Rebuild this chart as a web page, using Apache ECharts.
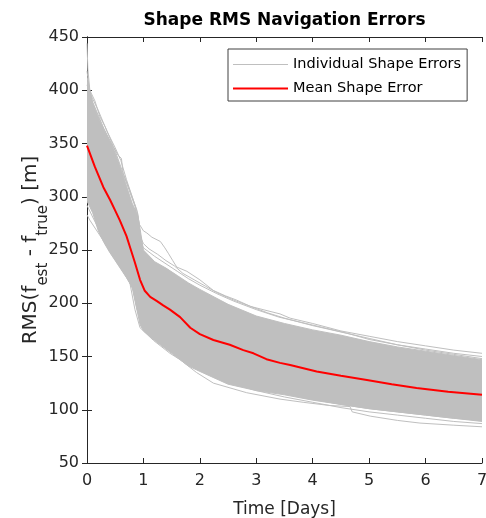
<!DOCTYPE html>
<html><head><meta charset="utf-8">
<script src="https://cdn.jsdelivr.net/npm/echarts@6/dist/echarts.min.js"></script>
<style>html,body{margin:0;padding:0;background:#fff}#c{width:486px;height:518px}</style>
</head><body><div id="c"></div>
<script>
// ---- text ----
const titleText = 'Shape RMS Navigation Errors';
const xName = 'Time [Days]';
const legendNames = ['Individual Shape Errors', 'Mean Shape Error'];
// ---- ticks ----
const xTicks = [0, 1, 2, 3, 4, 5, 6, 7];
const yTicks = [50, 100, 150, 200, 250, 300, 350, 400, 450];
// ---- mean shape error ----
const meanX   = [0, 0.14, 0.29, 0.41, 0.5, 0.58, 0.7, 0.76, 0.85, 0.94, 1.02, 1.12, 1.24, 1.35, 1.47, 1.65, 1.83, 2.0, 2.24, 2.53, 2.77, 2.95, 3.18, 3.42, 3.6, 4.07, 4.5, 4.96, 5.4, 5.84, 6.4, 7.0];
const meanErr = [348, 328, 309, 297, 287, 278, 263, 253, 238, 222, 212, 206, 202, 198, 194, 187, 177, 171, 165.5, 161, 156, 153, 147.5, 144, 142, 136, 132, 128, 124, 120.5, 117, 114];
// ---- dense spread of individual shape errors (upper / lower edge) ----
const bandX    = [0, 0.1, 0.2, 0.3, 0.4, 0.5, 0.6, 0.7, 0.8, 0.9, 0.94, 1.0, 1.2, 1.4, 1.6, 1.8, 2.0, 2.5, 3.0, 3.5, 4.0, 4.5, 5.0, 5.5, 6.0, 6.5, 7.0];
const bandHigh = [412, 388, 375, 363, 353, 341, 326, 310, 294, 282, 270, 250, 239, 233, 226, 219, 213, 199, 188, 181, 175, 170, 164, 159, 155, 151, 147];
const bandLow  = [296, 285, 268, 257, 248, 240, 232, 224, 215, 190, 180, 174, 165, 157, 149, 141, 136, 124, 118, 114, 109, 105, 101, 98, 95, 92, 89];
// ---- individual runs at the edges of the spread ----
const runA = [[0,444],[0.015,420],[0.05,400],[0.14,390],[0.23,375],[0.32,366],[0.47,347],[0.55,339],[0.61,336],[0.64,322],[0.76,306],[0.88,288],[0.93,274],[1.0,268],[1.06,266],[1.15,262],[1.3,258],[1.38,252],[1.44,247],[1.52,240],[1.59,234],[1.77,230],[2.0,222],[2.24,212],[2.45,207],[2.65,203],[2.9,197],[3.12,194],[3.42,190],[3.6,186],[4.0,181],[4.5,174],[5.0,169],[5.5,164],[6.0,160],[6.5,156],[7.0,153]];
const runB = [[0,405],[0.1,392],[0.2,381],[0.35,362],[0.5,346],[0.6,334],[0.7,316],[0.8,300],[0.9,284],[0.95,262],[1.0,256],[1.1,251],[1.25,246],[1.4,240],[1.55,235],[1.7,228],[1.9,222],[2.1,216],[2.3,210],[2.6,203],[2.9,197],[3.2,191],[3.5,186],[4.0,179],[4.5,173],[5.0,167],[5.5,161],[6.0,157],[6.5,153],[7.0,150]];
const runC = [[0,418],[0.05,398],[0.1,389],[0.3,364],[0.5,343],[0.7,313],[0.85,291],[0.95,258],[1.0,252],[1.2,244],[1.4,237],[1.6,230],[1.8,223],[2.0,217],[2.3,209],[2.6,202],[3.0,194],[3.4,187],[3.8,182],[4.2,177],[4.6,172],[5.0,166],[5.5,161],[6.0,156],[6.5,152],[7.0,148]];
const runD = [[0,283],[0.05,278],[0.2,266],[0.47,244],[0.6,233],[0.76,219],[0.85,194],[0.94,177],[1.18,165],[1.47,153],[1.65,147],[1.94,135],[2.24,125],[2.83,116],[3.42,110],[3.83,107],[4.3,104],[4.66,103],[4.7,98],[5.02,94],[5.5,90],[5.9,87.5],[6.5,85.5],[7.0,84]];
const runE = [[0,292],[0.1,281],[0.3,260],[0.5,243],[0.7,226],[0.82,212],[0.88,196],[0.95,182],[1.1,170],[1.4,158],[1.7,148],[2.0,138],[2.5,126],[3.0,118],[3.5,112],[4.0,107],[4.5,102],[5.0,98],[5.5,95],[6.0,92],[6.5,89],[7.0,87]];
const runF = [[0,300],[0.15,280],[0.4,255],[0.6,238],[0.8,218],[0.9,201],[1.0,182],[1.3,166],[1.6,154],[2.0,141],[2.5,129],[3.0,121],[3.5,115],[4.0,110],[4.5,105],[5.0,101],[5.5,98],[6.0,95],[6.5,92],[7.0,90]];

const FONT = 'DejaVu Sans';
const AX = '#262626';
const GREY = '#bfbfbf';
const RED = '#ff0000';
const xInt = xTicks[1] - xTicks[0];
const yInt = yTicks[1] - yTicks[0];

function greyRun(name, data) {
  return { type: 'line', name: name, data: data, symbol: 'none', silent: true,
    lineStyle: { color: GREY, width: 1 }, itemStyle: { color: GREY }, z: 3 };
}

const chart = echarts.init(document.getElementById('c'), null, { renderer: 'canvas' });
const axisCommon = {
  axisLine: { show: true, lineStyle: { color: AX, width: 1 } },
  axisTick: { show: true, inside: true, length: 5, lineStyle: { color: AX, width: 1 } },
  splitLine: { show: false }
};
chart.setOption({
  animation: false,
  backgroundColor: '#fff',
  grid: { left: 87, right: 4, top: 37, bottom: 55, containLabel: false, outerBoundsMode: 'none' },
  legend: {
    data: [
      { name: legendNames[0], icon: 'path://M0,0H55V1H0Z', itemStyle: { color: GREY } },
      { name: legendNames[1], icon: 'path://M0,0H55V2H0Z', itemStyle: { color: RED } }
    ],
    orient: 'vertical', left: 228, top: 49,
    itemWidth: 55, itemHeight: 14, itemGap: 9,
    padding: [8, 6, 5, 5],
    borderColor: '#404040', borderWidth: 1, backgroundColor: '#fff',
    textStyle: { fontFamily: FONT, fontSize: 14.5, color: '#000' },
    selectedMode: false
  },
  xAxis: [
    Object.assign({ type: 'value', position: 'bottom', min: xTicks[0], max: xTicks[xTicks.length - 1], interval: xInt,
      name: xName, nameLocation: 'middle', nameGap: 38, nameMoveOverlap: false,
      nameTextStyle: { fontFamily: FONT, fontSize: 17, color: AX },
      axisLabel: { fontFamily: FONT, fontSize: 16, color: AX, margin: 10 } }, axisCommon),
    Object.assign({ type: 'value', position: 'top', min: xTicks[0], max: xTicks[xTicks.length - 1], interval: xInt,
      name: titleText, nameLocation: 'middle', nameGap: 8, nameMoveOverlap: false,
      nameTextStyle: { fontFamily: FONT, fontSize: 17, fontWeight: 'bold', color: '#000' },
      axisLabel: { show: false } }, axisCommon)
  ],
  yAxis: [
    Object.assign({ type: 'value', position: 'left', min: yTicks[0], max: yTicks[yTicks.length - 1], interval: yInt,
      name: '{a|RMS(f}{b|est}{a| - f}{b|true}{a|) [m]}', nameLocation: 'middle', nameGap: 44, nameRotate: 90,
      nameMoveOverlap: false,
      nameTextStyle: { rich: {
        a: { fontFamily: FONT, fontSize: 20, color: AX, lineHeight: 22, verticalAlign: 'top' },
        b: { fontFamily: FONT, fontSize: 15, color: AX, lineHeight: 15, verticalAlign: 'top', padding: [15, 0, 0, 0] }
      } },
      axisLabel: { fontFamily: FONT, fontSize: 16, color: AX, margin: 8 } }, axisCommon),
    Object.assign({ type: 'value', position: 'right', min: yTicks[0], max: yTicks[yTicks.length - 1], interval: yInt,
      axisLabel: { show: false } }, axisCommon)
  ],
  series: [
    {
      type: 'custom', name: 'spread', silent: true, z: 2,
      data: [[bandX[0], bandLow[0]]],
      encode: { x: 0, y: 1 },
      clip: true,
      renderItem: function (params, api) {
        const pts = [];
        for (let i = 0; i < bandX.length; i++) pts.push(api.coord([bandX[i], bandHigh[i]]));
        for (let i = bandX.length - 1; i >= 0; i--) pts.push(api.coord([bandX[i], bandLow[i]]));
        return { type: 'polygon', shape: { points: pts }, style: { fill: GREY, stroke: GREY, lineWidth: 1 } };
      }
    },
    greyRun(legendNames[0], runA),
    greyRun('runB', runB),
    greyRun('runC', runC),
    greyRun('runD', runD),
    greyRun('runE', runE),
    greyRun('runF', runF),
    {
      type: 'line', name: legendNames[1], data: meanX.map((x, i) => [x, meanErr[i]]),
      symbol: 'none', silent: true, z: 5,
      lineStyle: { color: RED, width: 2 }, itemStyle: { color: RED }
    }
  ]
});
</script></body></html>
